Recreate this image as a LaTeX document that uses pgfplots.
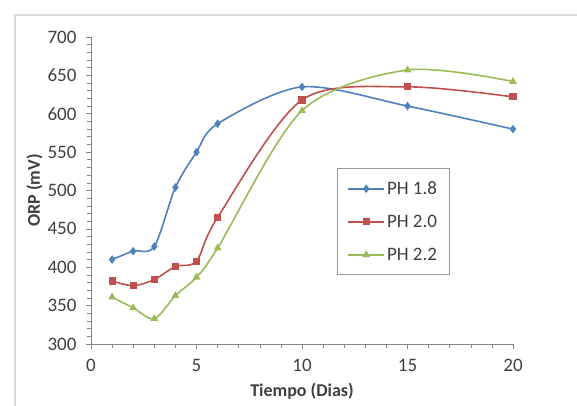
\documentclass[border=0pt]{standalone}
\usepackage{pgfplots}
\pgfplotsset{compat=1.18}
\usepackage{fontspec}
\setmainfont{Carlito}
\definecolor{xlblue}{HTML}{4F81BD}
\definecolor{xlred}{HTML}{C0504D}
\definecolor{xlgreen}{HTML}{9BBB59}
\definecolor{axgray}{HTML}{868686}
\definecolor{txtgray}{HTML}{404040}
\begin{document}
\begin{tikzpicture}[x=1pt,y=1pt]
\clip (-91,-62) rectangle (486,344);
\fill[white] (-91,-62) rectangle (486,344);
\draw[line width=1.2pt, color=black!15] (-76,329) rectangle (520,-90);
\begin{axis}[
  at={(0,0)}, anchor=south west,
  scale only axis, width=422pt, height=307pt,
  xmin=0, xmax=20, ymin=300, ymax=700,
  axis x line*=bottom, axis y line*=left,
  axis line style={axgray, line width=0.8pt, -},
  xtick={0,5,10,15,20}, ytick={300,350,...,700},
  minor x tick num=4, minor y tick num=4,
  tick align=outside,
  major tick length=5pt, minor tick length=4pt,
  tick style={axgray, line width=0.6pt},
  /pgf/number format/assume math mode=true,
  ticklabel style={font=\fontsize{19}{20}\selectfont, text=txtgray},
  xticklabel style={yshift=-7pt},
  yticklabel style={xshift=-6pt},
  xlabel={\textbf{Tiempo (Dias)}},
  ylabel={\textbf{ORP (mV)}},
  label style={font=\fontsize{18}{19}\selectfont, text=txtgray},
  xlabel style={yshift=-4pt},
  ylabel style={yshift=-2pt},
  clip=false,
  legend cell align=left,
  legend style={at={(rel axis cs:0.583,0.573)}, anchor=north west,
    draw=black!40, line width=0.8pt,
    font=\fontsize{19}{20}\selectfont, text=txtgray,
    row sep=15pt, inner xsep=10pt, inner ysep=11pt,
    /tikz/every even column/.append style={column sep=2pt}},
  legend image code/.code={
    \draw[#1, line width=1.6pt] (0pt,0pt) -- (36pt,0pt);
    \draw[#1, only marks] plot coordinates {(18pt,0pt)};
  },
]
\addplot[xlblue, line width=1.6pt, smooth, tension=0.5, mark=diamond*, mark size=3pt, mark options={solid}]
  coordinates {(1,410) (2,421) (3,427) (4,504) (5,550) (6,587) (10,635) (15,610) (20,580)};
\addlegendentry{PH 1.8}
\addplot[xlred, line width=1.6pt, smooth, tension=0.5, mark=square*, mark size=2.8pt, mark options={solid}]
  coordinates {(1,382) (2,376) (3,384) (4,401) (5,408) (6,465) (10,618) (15,635) (20,622)};
\addlegendentry{PH 2.0}
\addplot[xlgreen, line width=1.6pt, smooth, tension=0.5, mark=triangle*, mark size=3pt, mark options={solid}]
  coordinates {(1,361) (2,347) (3,333) (4,363) (5,387) (6,425) (10,604) (15,657) (20,642)};
\addlegendentry{PH 2.2}
\end{axis}
\end{tikzpicture}
\end{document}
